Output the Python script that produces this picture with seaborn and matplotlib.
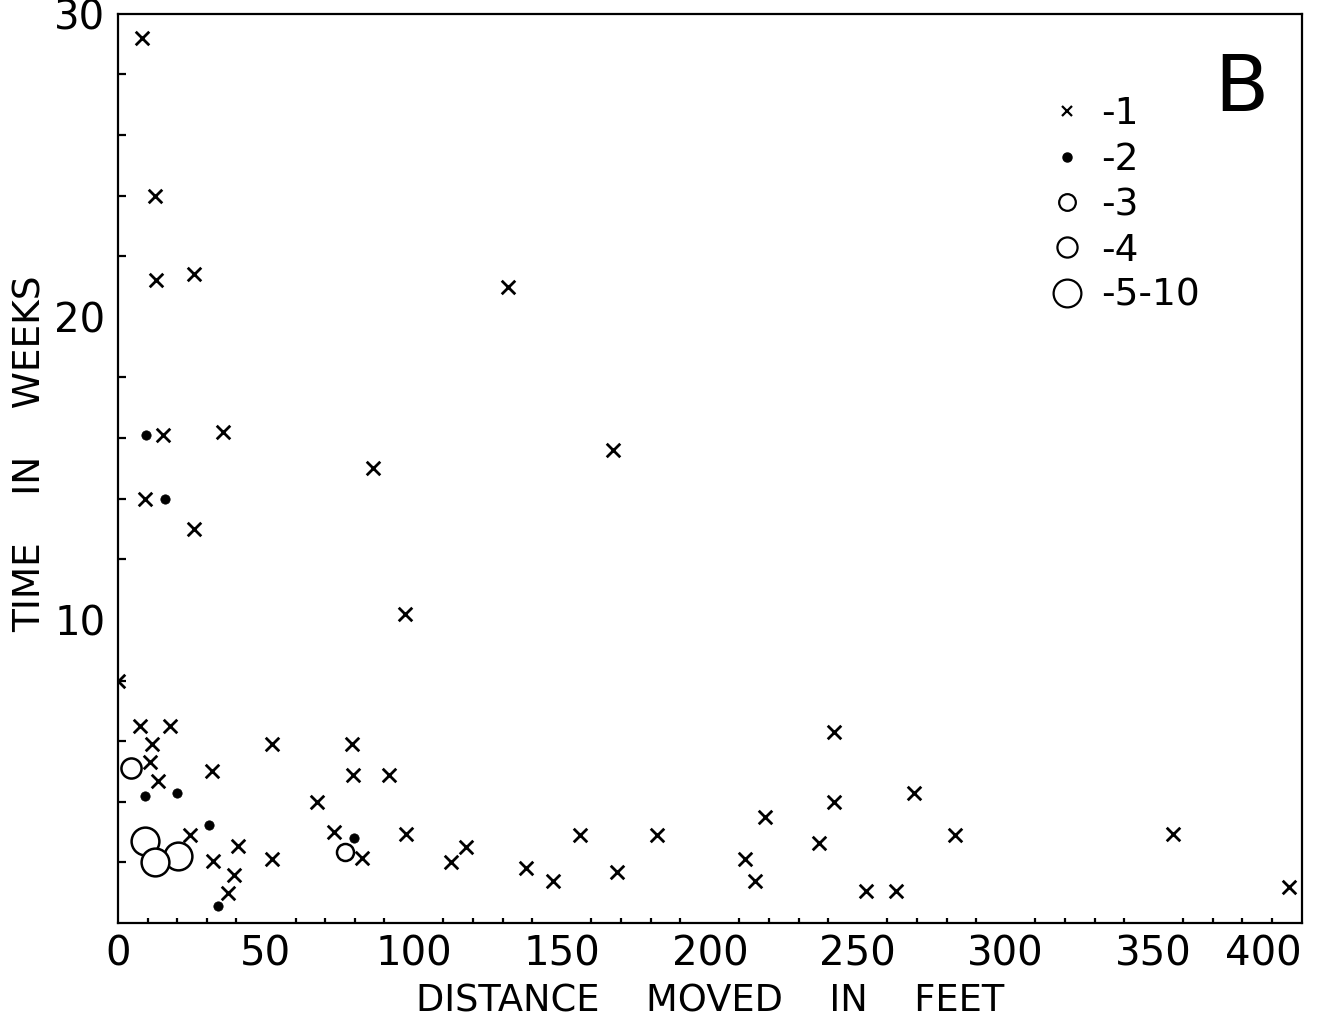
import seaborn as sns
import matplotlib.pyplot as plt
import matplotlib.ticker as mticker
from matplotlib.lines import Line2D

sns.set_theme(style="white")
plt.rcParams['font.family'] = ['DejaVu Sans']
plt.rcParams['text.color'] = 'black'

# group 1 (x marks)
x1 = [8.1, 12.5, 12.8, 25.7, 131.8, 15.2, 35.5, 86.1, 167.2, 9.1, 25.7, 97.0,
      0.0, 7.4, 17.6, 11.5, 10.8, 13.5, 31.8, 52.0, 79.0, 79.4, 91.6, 67.2,
      24.3, 32.1, 40.5, 39.2, 37.2, 52.0, 73.0, 82.4, 97.3, 112.5, 117.6,
      137.8, 147.0, 156.0, 168.6, 182.0, 211.8, 215.2, 218.6, 237.0, 242.0,
      242.0, 252.7, 263.0, 269.0, 283.0, 356.4, 395.6]
y1 = [29.2, 24.0, 21.2, 21.4, 21.0, 16.1, 16.2, 15.0, 15.6, 14.0, 13.0, 10.2,
      8.0, 6.5, 6.5, 5.9, 5.3, 4.7, 5.0, 5.9, 5.9, 4.9, 4.9, 4.0,
      2.9, 2.05, 2.55, 1.6, 1.0, 2.1, 3.0, 2.15, 2.95, 2.0, 2.5,
      1.8, 1.4, 2.9, 1.7, 2.9, 2.1, 1.4, 3.5, 2.65, 6.3,
      4.0, 1.06, 1.06, 4.3, 2.9, 2.95, 1.2]
# group 2 (filled dots)
x2 = [9.5, 15.9, 9.1, 19.9, 30.7, 33.8, 79.7]
y2 = [16.1, 14.0, 4.2, 4.3, 3.25, 0.55, 2.8]
# group 3 (small open circles)
x3 = [76.7]
y3 = [2.35]
# group 4 (medium open circles)
x4 = [4.4]
y4 = [5.1]
# groups 5-10 (large open circles)
x5 = [9.1, 20.3, 12.5]
y5 = [2.7, 2.2, 2.0]

legend_labels = ['-1', '-2', '-3', '-4', '-5-10']

fig = plt.figure(figsize=(13.33, 10.24), dpi=100)
ax = fig.add_axes([0.0885, 0.0986, 0.888, 0.888])

lw = 1.8
sns.scatterplot(x=x5, y=y5, marker='o', s=400, facecolor='white', edgecolor='black',
                linewidth=lw, ax=ax, zorder=3)
sns.scatterplot(x=x4, y=y4, marker='o', s=210, facecolor='white', edgecolor='black',
                linewidth=lw, ax=ax, zorder=3)
sns.scatterplot(x=x3, y=y3, marker='o', s=150, facecolor='white', edgecolor='black',
                linewidth=lw, ax=ax, zorder=3)
sns.scatterplot(x=x2, y=y2, marker='o', s=45, color='black', edgecolor='black',
                ax=ax, zorder=3)
sns.scatterplot(x=x1, y=y1, marker='x', s=95, color='black', linewidth=2.0,
                ax=ax, zorder=3)

ax.set_xlim(0, 400)
ax.set_ylim(0, 30)
ax.xaxis.set_major_locator(mticker.MultipleLocator(50))
ax.xaxis.set_minor_locator(mticker.MultipleLocator(10))
ax.yaxis.set_major_locator(mticker.MultipleLocator(10))
ax.yaxis.set_minor_locator(mticker.MultipleLocator(2))
ax.yaxis.set_major_formatter(mticker.FuncFormatter(lambda v, p: '' if v == 0 else f'{v:.0f}'))
ax.tick_params(axis='both', which='both', direction='in', color='black',
               width=1.6, labelsize=29, labelcolor='black', top=False, right=False)
ax.tick_params(axis='x', which='major', length=11.5, pad=8)
ax.tick_params(axis='x', which='minor', length=3.6, bottom=True)
ax.tick_params(axis='y', which='major', length=18, pad=9)
ax.tick_params(axis='y', which='minor', length=5.5, left=True)
for sp in ax.spines.values():
    sp.set_color('black')
    sp.set_linewidth(1.6)

ax.set_xlabel('DISTANCE    MOVED    IN    FEET', fontsize=26.5, color='black', labelpad=6)
ax.set_ylabel('TIME    IN    WEEKS', fontsize=27, color='black', labelpad=4)
ax.yaxis.label.set_y(0.516)

ax.text(0.949, 0.893, 'B', transform=ax.transAxes, fontsize=57, ha='center',
        va='baseline', color='black')

handles = [
    Line2D([], [], ls='none', marker='x', ms=7.5, mew=1.6, color='black'),
    Line2D([], [], ls='none', marker='o', ms=6.5, color='black'),
    Line2D([], [], ls='none', marker='o', ms=12, mew=1.6, mfc='white', mec='black'),
    Line2D([], [], ls='none', marker='o', ms=14.5, mew=1.6, mfc='white', mec='black'),
    Line2D([], [], ls='none', marker='o', ms=20, mew=1.6, mfc='white', mec='black'),
]
ax.legend(handles, legend_labels, loc='upper left', bbox_to_anchor=(0.786, 0.909),
          frameon=False, fontsize=27, handlelength=1.0, handletextpad=0.4,
          labelspacing=0.25, borderaxespad=0, borderpad=0)

fig.canvas.draw()
for lab in ax.get_xticklabels():
    if lab.get_text() == '400':
        lab.set_ha('right')
        lab.set_x(lab.get_position()[0] + 4)

fig.savefig('out.png', dpi=100)
